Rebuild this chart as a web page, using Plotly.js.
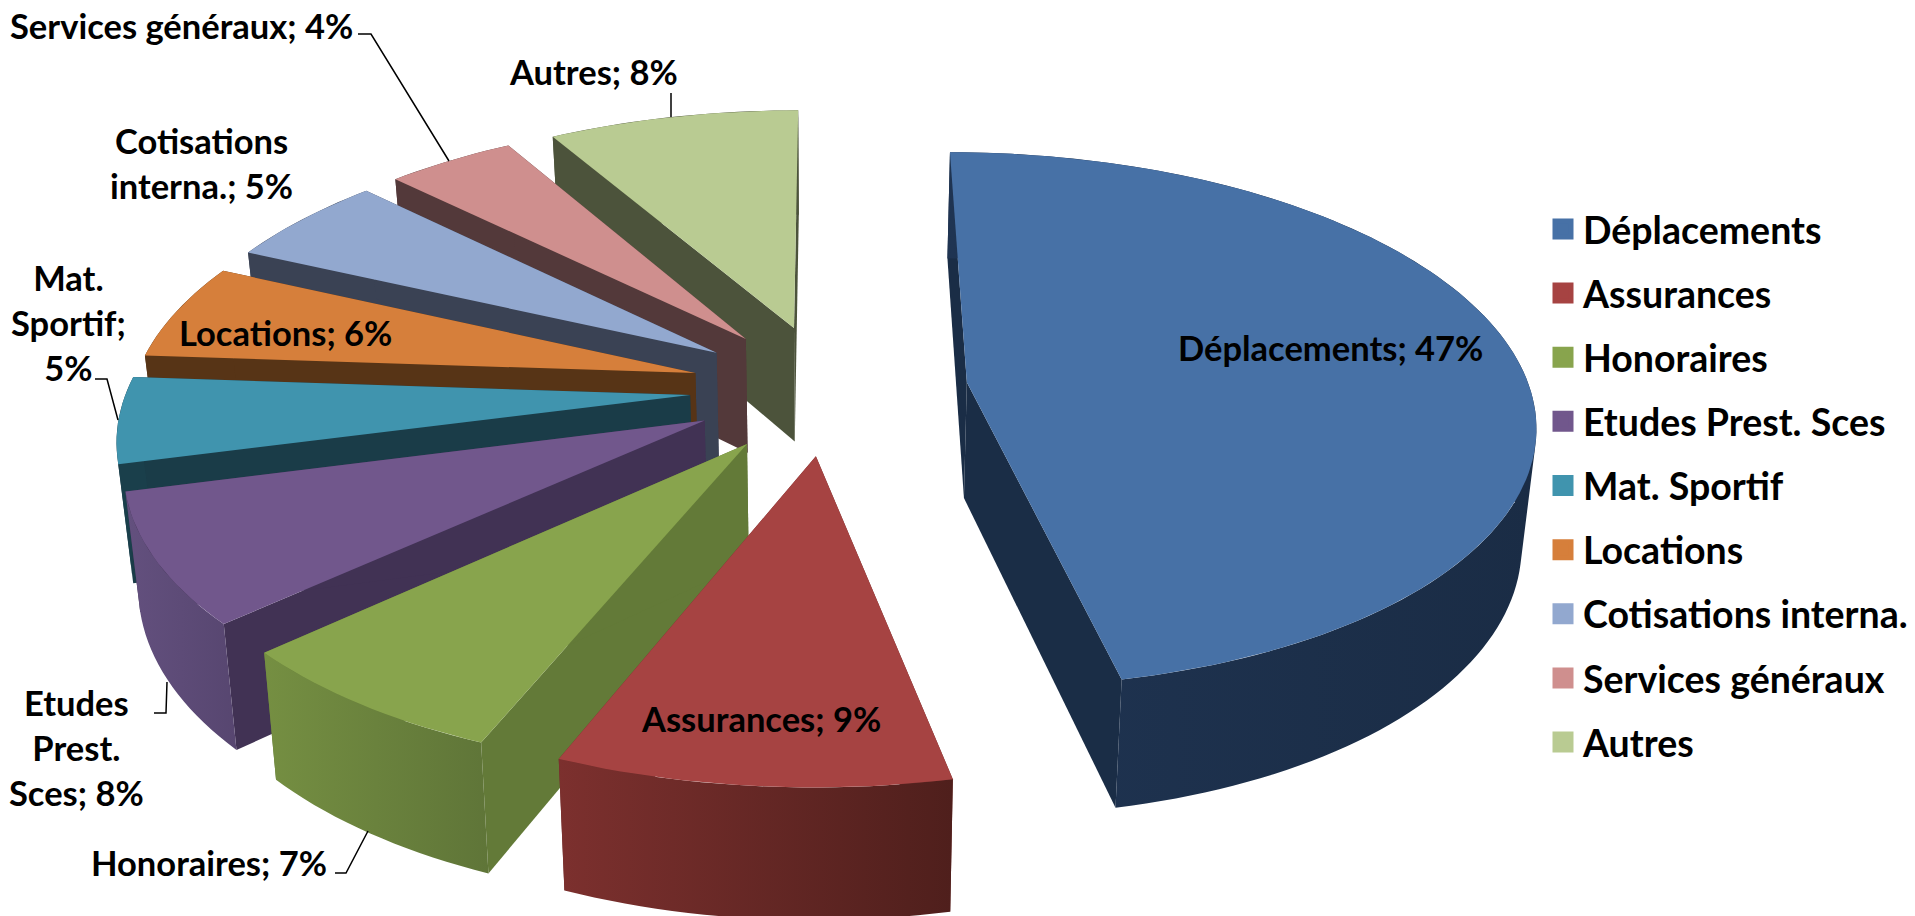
<!DOCTYPE html>
<html><head><meta charset="utf-8">
<script src="https://cdn.plot.ly/plotly-3.0.1.min.js"></script>
<style>html,body{margin:0;padding:0;background:#fff;overflow:hidden}#c{width:1915px;height:916px}</style>
</head><body><div id="c"></div>
<script>
// ---- data ----
const categories = ["Déplacements","Assurances","Honoraires","Etudes Prest. Sces","Mat. Sportif","Locations","Cotisations interna.","Services généraux","Autres"];
const shares = [46.69,9.46,7.04,7.73,5.12,5.76,5.47,4.30,8.37];
// ---- styles ----
const topColors = ["#4771a6","#a64342","#88a44d","#71578c","#4094ae","#d67f3b","#92a8cf","#cf8f8e","#b9cb92"];
const edgeColors = ["#1a2d46","#6b2b29","#637a38","#413254","#1a3c48","#573416","#3a4254","#53393a","#4c533b"];
const rimColors = [["#1f3452","#1a2c45"],["#7c302e","#4f1f1c"],["#758f42","#5f7538"],["#63507e","#574670"],["#1a3f4b","#1a3f4b"],["#573416","#573416"],["#3a4254","#3a4254"],["#53393a","#53393a"],["#4c533b","#4c533b"]];
const labelSpec = [
 {t:"Déplacements; 47%",x:1330,y:347},
 {t:"Assurances; 9%",x:761,y:718},
 {t:"Honoraires; 7%",x:209,y:862},
 {t:"Etudes<br>Prest.<br>Sces; 8%",x:76,y:747},
 {t:"Mat.<br>Sportif;<br>5%",x:68,y:322},
 {t:"Locations; 6%",x:285,y:332},
 {t:"Cotisations<br>interna.; 5%",x:201,y:163},
 {t:"Services généraux; 4%",x:181,y:25},
 {t:"Autres; 8%",x:593,y:71}
];
const leaders = [
 [[358,34],[371,34],[449,161]],
 [[671,93],[671,117]],
 [[95,379],[107,379],[118,420]],
 [[154,713],[166,713],[167,682]],
 [[335,873],[346,873],[368,831]]
];
// ---- projection ----
const CX=829, CY=389, R=563, A=264, P=0.14, EXPLODE=0.247, DEPTH=116, BX=0.979, BY=1.042;
function proj(u,v){const s=1/(1-P*v);return [R*u*s, A*v*s];}
function topPt(u,v){const p=proj(u,v);return [CX+p[0],CY+p[1]];}
function botPt(u,v){const p=proj(u,v);return [CX+p[0]*BX,CY+p[1]*BY+DEPTH];}
const total=shares.reduce((a,b)=>a+b,0);
let cum=0;
const slices=shares.map((s,i)=>{const a=cum/total*2*Math.PI;cum+=s;const b=cum/total*2*Math.PI;
  const m=(a+b)/2;return {i,a,b,u0:EXPLODE*Math.sin(m),v0:-EXPLODE*Math.cos(m)};});
function rim(sl,f){const n=Math.max(6,Math.round((sl.b-sl.a)*40));const o=[];
  for(let k=0;k<=n;k++){const t=sl.a+(sl.b-sl.a)*k/n;o.push(f(sl.u0+Math.sin(t),sl.v0-Math.cos(t)));}return o;}
function poly(pts,color,name,extra){const x=pts.map(p=>p[0]).concat(pts[0][0]);const y=pts.map(p=>p[1]).concat(pts[0][1]);
  return Object.assign({type:"scatter",mode:"lines",x,y,fill:"toself",fillcolor:color,line:{width:0,color},name,showlegend:false,hoverinfo:"name"},extra||{});}
// Outer wall: one quad per rim step, all wound the same way, so the silhouette between the two rims is filled.
function wall(tr,br,colors,name){const x=[],y=[];
  for(let k=0;k<tr.length-1;k++){
    let q=[tr[k],tr[k+1],br[k+1],br[k]];
    let area=0;q.forEach((p,j)=>{const r=q[(j+1)%4];area+=p[0]*r[1]-r[0]*p[1];});
    if(area<0)q=q.reverse();
    q.concat([q[0]]).forEach(p=>{x.push(p[0]);y.push(p[1]);});
    x.push(null);y.push(null);
  }
  return {type:"scatter",mode:"lines",x,y,fill:"toself",fillcolor:colors[0],line:{width:0,color:colors[0]},name,showlegend:false,hoverinfo:"name",
    fillgradient:{type:"horizontal",colorscale:[[0,colors[0]],[1,colors[1]]]}};
}
const traces=[];
[8,7,6,5,4,3,2,1,0].forEach(i=>{
  const sl=slices[i],name=categories[i];
  const tr=rim(sl,topPt),br=rim(sl,botPt);
  const at=topPt(sl.u0,sl.v0),ab=botPt(sl.u0,sl.v0);
  traces.push(poly([at,tr[0],br[0],ab],edgeColors[i],name));
  traces.push(poly([at,tr[tr.length-1],br[br.length-1],ab],edgeColors[i],name));
  traces.push(wall(tr,br,rimColors[i],name));
  traces.push(poly([at].concat(tr),topColors[i],name));
});
categories.forEach((c,i)=>traces.push({type:"scatter",mode:"markers",x:[null],y:[null],name:c,legendgroup:c,
  marker:{symbol:"square",size:16,color:topColors[i],line:{width:6,color:topColors[i]}},hoverinfo:"skip"}));
const layout={width:1915,height:916,margin:{l:0,r:0,t:0,b:0},paper_bgcolor:"#fff",plot_bgcolor:"#fff",
 xaxis:{range:[0,1915],visible:false,fixedrange:true},yaxis:{range:[916,0],visible:false,fixedrange:true},
 legend:{x:1543/1915,xanchor:"left",y:1-198/916,yanchor:"top",tracegroupgap:12.4,itemwidth:30,bgcolor:"rgba(0,0,0,0)",
   font:{family:"Lato, sans-serif",size:37.5,color:"#000",weight:700}},
 annotations:labelSpec.map(l=>({x:l.x,y:l.y,xref:"x",yref:"y",text:l.t,showarrow:false,align:"center",xanchor:"center",yanchor:"middle",
   font:{family:"Lato, sans-serif",size:34.5,color:"#000",weight:700}})),
 shapes:leaders.map(L=>({type:"path",xref:"x",yref:"y",path:"M"+L.map(p=>p.join(",")).join("L"),line:{color:"#000",width:1.5}}))
};
Plotly.newPlot("c",traces,layout,{displayModeBar:false,staticPlot:true});
</script></body></html>
